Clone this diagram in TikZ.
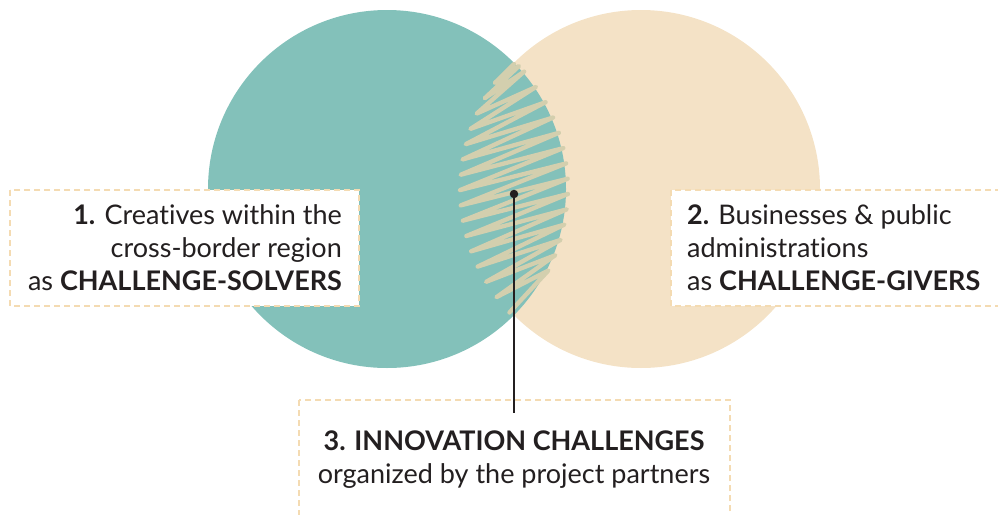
\documentclass[tikz,border=0pt]{standalone}
\usepackage{fontspec}
\setmainfont{Lato}[Ligatures=NoCommon]
\definecolor{tealc}{HTML}{83C1BA}
\definecolor{beigec}{HTML}{F4E2C6}
\definecolor{hatchc}{HTML}{D3CFAE}
\definecolor{dashc}{HTML}{F4DBB2}
\definecolor{inkc}{HTML}{231F20}
\begin{document}
\begin{tikzpicture}[x=1pt,y=-1pt,
  box/.style={draw=dashc, fill=white, line width=2.7pt, dash pattern=on 6pt off 4pt},
  txt/.style={inner sep=0pt, text=inkc, font=\fontsize{27}{33}\selectfont},
  hatchline/.style={draw=hatchc, line width=4.3pt, line cap=round, line join=round},
]
\useasboundingbox (0,0) rectangle (998,514);
% circles
\fill[beigec] (641,189) circle[radius=179];
\fill[tealc] (387,189) circle[radius=179];
% scribble hatching in the overlap
\foreach \i in {0,...,15} {
  \pgfmathsetmacro\yl{83+15.3*\i}
  \pgfmathsetmacro\xl{641-10*sqrt(max(320.41-((\yl-189)/10)^2,0))-2}
  \pgfmathsetmacro\yr{max(\yl+15.3-42,66)}
  \pgfmathsetmacro\xr{387+10*sqrt(max(320.41-((\yr-189)/10)^2,0))+2}
  \coordinate (L\i) at (\xl,\yl);
  \coordinate (R\i) at (\xr,\yr);
}
\coordinate (top) at (514,64);
\draw[hatchline] (top) \foreach \i in {0,...,14} { -- (L\i) -- (R\i) } -- (L15);
% boxes
\draw[box] (10,190) rectangle (359,306);
\draw[box] (671,190) rectangle (1010,306);
\draw[box] (299,400) rectangle (730,530);
% connector
\node[circle, fill=inkc, minimum size=8.5pt, inner sep=0pt] (dot) at (514,194) {};
\coordinate (lineend) at (514,413);
\draw[inkc, line width=2.7pt] (dot.center) -- (lineend);
% texts
\node[txt, anchor=base east] (a1) at (342,224) {\textbf{1.} Creatives within the};
\node[txt, anchor=base east] (a2) at (342,257) {cross-border region};
\node[txt, anchor=base east] (a3) at (342,290) {as \textbf{CHALLENGE-SOLVERS}};
\node[txt, anchor=base west] (b1) at (687,224) {\textbf{2.} Businesses \& public};
\node[txt, anchor=base west] (b2) at (687,257) {administrations};
\node[txt, anchor=base west] (b3) at (687,290) {as \textbf{CHALLENGE-GIVERS}};
\node[txt, anchor=base] (c1) at (514,450) {\textbf{3. INNOVATION CHALLENGES}};
\node[txt, anchor=base] (c2) at (514,483) {organized by the project partners};
\end{tikzpicture}
\end{document}
